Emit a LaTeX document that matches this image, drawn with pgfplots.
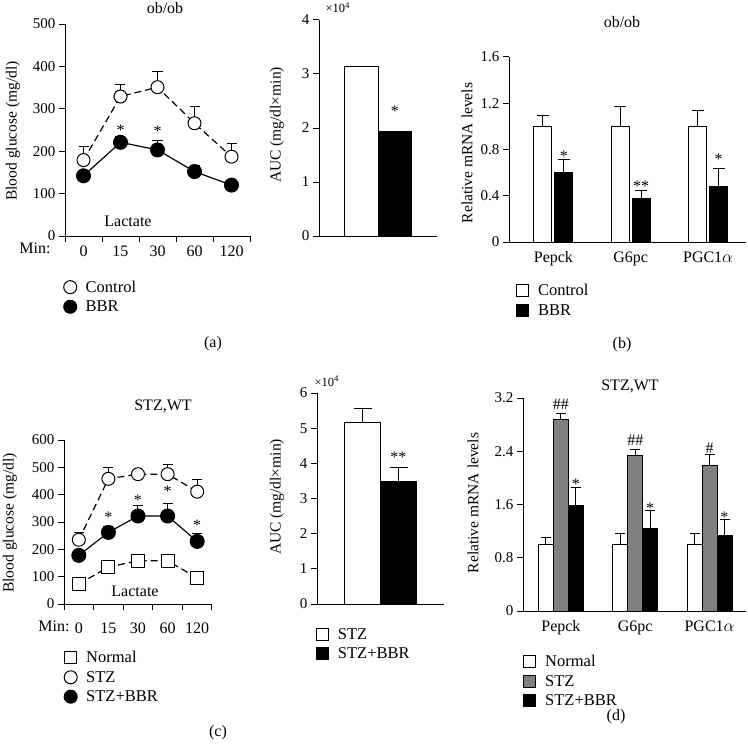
\documentclass[border=0pt]{standalone}
\usepackage{pgfplots}
\pgfplotsset{compat=1.18}
\usepackage{fontspec}
\setmainfont{Liberation Serif}
\newcommand{\myfs}[1]{\fontsize{#1}{#1}\selectfont}
\definecolor{stzgray}{RGB}{128,128,128}
\pgfplotsset{
  base/.style={scale only axis, anchor=south west, clip=false,
    axis lines=left, axis line style={-, line width=1pt, black},
    tick align=outside, major tick length=6pt, minor tick length=6pt,
    tick style={black, line width=1pt},
    /pgf/number format/assume math mode=true,
    yticklabel style={font=\myfs{15}},
    xticklabel style={font=\myfs{16}},
    legend cell align=left,
    legend style={draw=none, fill=none, font=\myfs{16.5}, inner sep=0pt, row sep=5pt, column sep=4pt,
      nodes={inner xsep=5pt, inner ysep=1pt}, anchor=north west},
  },
  circW/.style={mark=*, mark options={solid, fill=white, draw=black, line width=1pt}, mark size=6.5pt},
  circB/.style={mark=*, mark options={solid, fill=black, draw=black, line width=1pt}, mark size=7pt},
  sqW/.style={mark=square*, mark options={solid, fill=white, draw=black, line width=1pt}, mark size=6.5pt},
  ebar/.style={draw=none, mark=none, forget plot, error bars/.cd, y dir=plus, y explicit,
    error bar style={draw=black, solid, line width=1pt},
    error mark options={rotate=90, draw=black, solid, line width=1pt, mark size=#1}},
  ebar/.default=5pt,
  berr/.style={error bars/.cd, y dir=plus, y explicit,
    error bar style={draw=black, solid, line width=1pt},
    error mark options={rotate=90, draw=black, solid, line width=1pt, mark size=#1}},
  lgC/.style={legend image code/.code={\draw[mark=*, mark options={fill=white, draw=black, line width=1pt}, mark size=6.5pt] plot coordinates {(6.5pt,0pt)};}},
  lgB/.style={legend image code/.code={\draw[mark=*, mark options={fill=black, draw=black, line width=1pt}, mark size=6.5pt] plot coordinates {(6.5pt,0pt)};}},
  lgS/.style={legend image code/.code={\draw[mark=square*, mark options={fill=white, draw=black, line width=1pt}, mark size=6pt] plot coordinates {(6.5pt,0pt)};}},
  lgBox/.style={legend image code/.code={\draw[fill=#1, draw=black, line width=1pt] (0pt,-6pt) rectangle (12pt,6pt);}},
}
\begin{document}
\begin{tikzpicture}[x=1pt,y=1pt]
\useasboundingbox (0,0) rectangle (747,-754);

% ---------------- (a) line chart ----------------
\begin{axis}[base, at={(65pt,-236pt)}, width=185pt, height=212pt,
  xmin=0, xmax=5, ymin=0, ymax=500, ytick={0,100,200,300,400,500},
  xtick={0.5,1.5,2.5,3.5,4.5}, xticklabels={0,15,30,60,120},
  major x tick style={draw=none}, minor xtick={0,1,2,3,4,5},
  legend style={at={(-0.008,-0.205)}}]
\addlegendimage{lgC}\addlegendentry{Control}
\addlegendimage{lgB}\addlegendentry{BBR}
\addplot[ebar] coordinates {(0.5,179) +- (0,33) (1.5,329) +- (0,29) (2.5,351) +- (0,37) (3.5,266) +- (0,39) (4.5,187) +- (0,32)};
\addplot[ebar] coordinates {(0.5,142) +- (0,8) (1.5,221) +- (0,13) (2.5,203) +- (0,22) (3.5,152) +- (0,15) (4.5,120) +- (0,5)};
\addplot[black, line width=1.2pt, dash pattern=on 7pt off 4pt, circW, forget plot] coordinates {(0.5,179) (1.5,329) (2.5,351) (3.5,266) (4.5,187)};
\addplot[black, line width=1.2pt, circB, forget plot] coordinates {(0.5,142) (1.5,221) (2.5,203) (3.5,152) (4.5,120)};
\node[font=\myfs{16}, anchor=base] at (axis cs:1.5,238) {*};
\node[font=\myfs{16}, anchor=base] at (axis cs:2.5,234) {*};
\end{axis}

% ---------------- (a) AUC ----------------
\begin{axis}[base, at={(319pt,-236pt)}, width=118pt, height=216pt,
  xmin=-1, xmax=1, ymin=0, ymax=4, ytick={0,1,2,3,4}, xtick=\empty,
  ybar, bar width=33.5pt]
\addplot[fill=white, draw=black, line width=1pt, bar shift=-16.75pt] coordinates {(0,3.14)};
\addplot[fill=black, draw=black, line width=1pt, bar shift=16.75pt] coordinates {(0,1.93)};
\node[font=\myfs{16}, anchor=base] at (axis cs:0.284,2.21) {*};
\end{axis}

% ---------------- (b) ----------------
\begin{axis}[base, at={(509pt,-242pt)}, width=237pt, height=185pt,
  xmin=-0.574, xmax=2.49, ymin=0, ymax=1.6, ytick={0,0.4,0.8,1.2,1.6},
  ybar, bar width=18pt, xtick={0,1,2}, xticklabels={Pepck,G6pc,PGC1$\alpha$},
  major x tick style={draw=none},
  legend style={at={(0.029,-0.222)}}]
\addlegendimage{lgBox=white}\addlegendentry{Control}
\addlegendimage{lgBox=black}\addlegendentry{BBR}
\addplot[fill=white, draw=black, line width=1pt, bar shift=-10.5pt, forget plot, berr=6pt] coordinates {(0,1.0) +- (0,0.09) (1,1.0) +- (0,0.175) (2,1.0) +- (0,0.14)};
\addplot[fill=black, draw=black, line width=1pt, bar shift=10.5pt, forget plot, berr=6pt] coordinates {(0,0.60) +- (0,0.115) (1,0.373) +- (0,0.072) (2,0.48) +- (0,0.16)};
\node[font=\myfs{16}, anchor=base] at (axis cs:0.135,0.696) {*};
\node[font=\myfs{16}, anchor=base] at (axis cs:1.135,0.436) {**};
\node[font=\myfs{16}, anchor=base] at (axis cs:2.135,0.666) {*};
\end{axis}

% ---------------- (c) line chart ----------------
\begin{axis}[base, at={(64pt,-604pt)}, width=148pt, height=164pt,
  xmin=0, xmax=5, ymin=0, ymax=600, ytick={0,100,200,300,400,500,600},
  xtick={0.5,1.5,2.5,3.5,4.5}, xticklabels={0,15,30,60,120},
  xticklabel style={yshift=-9pt},
  major x tick style={draw=none}, minor xtick={0,1,2,3,4,5},
  legend style={at={(0.0,-0.28)}}]
\addlegendimage{lgS}\addlegendentry{Normal}
\addlegendimage{lgC}\addlegendentry{STZ}
\addlegendimage{lgB}\addlegendentry{STZ+BBR}
\addplot[ebar] coordinates {(0.5,235) +- (0,28) (1.5,458) +- (0,42) (2.5,475) +- (0,18) (3.5,475) +- (0,35) (4.5,411) +- (0,43)};
\addplot[ebar] coordinates {(0.5,178) +- (0,10) (1.5,262) +- (0,22) (2.5,322) +- (0,39) (3.5,322) +- (0,44) (4.5,229) +- (0,30)};
\addplot[black, line width=1.2pt, dash pattern=on 7pt off 4pt, sqW, forget plot] coordinates {(0.5,73) (1.5,135) (2.5,158) (3.5,158) (4.5,95)};
\addplot[black, line width=1.2pt, dash pattern=on 7pt off 4pt, circW, forget plot] coordinates {(0.5,235) (1.5,458) (2.5,475) (3.5,475) (4.5,411)};
\addplot[black, line width=1.2pt, circB, forget plot] coordinates {(0.5,178) (1.5,262) (2.5,322) (3.5,322) (4.5,229)};
\node[font=\myfs{16}, anchor=base] at (axis cs:1.5,299) {*};
\node[font=\myfs{16}, anchor=base] at (axis cs:2.5,362) {*};
\node[font=\myfs{16}, anchor=base] at (axis cs:3.5,392) {*};
\node[font=\myfs{16}, anchor=base] at (axis cs:4.5,268) {*};
\end{axis}

% ---------------- (c) AUC ----------------
\begin{axis}[base, at={(317pt,-604pt)}, width=127pt, height=211pt,
  xmin=-1, xmax=1, ymin=0, ymax=6, ytick={0,1,2,3,4,5,6}, xtick=\empty,
  ybar, bar width=36pt,
  legend style={at={(-0.01,-0.109)}}]
\addlegendimage{lgBox=white}\addlegendentry{STZ}
\addlegendimage{lgBox=black}\addlegendentry{STZ+BBR}
\addplot[fill=white, draw=black, line width=1pt, bar shift=-18pt, forget plot, berr=9pt] coordinates {(0,5.17) +- (0,0.38)};
\addplot[fill=black, draw=black, line width=1pt, bar shift=18pt, forget plot, berr=9pt] coordinates {(0,3.47) +- (0,0.40)};
\node[font=\myfs{16}, anchor=base] at (axis cs:0.283,4.01) {**};
\end{axis}

% ---------------- (d) ----------------
\begin{axis}[base, at={(523pt,-611pt)}, width=223pt, height=213pt,
  xmin=-0.51, xmax=2.49, ymin=0, ymax=3.2, ytick={0,0.8,1.6,2.4,3.2},
  ybar, bar width=15pt, xtick={0,1,2}, xticklabels={Pepck,G6pc,PGC1$\alpha$},
  major x tick style={draw=none},
  legend style={at={(0.0,-0.202)}}]
\addlegendimage{lgBox=white}\addlegendentry{Normal}
\addlegendimage{lgBox=stzgray}\addlegendentry{STZ}
\addlegendimage{lgBox=black}\addlegendentry{STZ+BBR}
\addplot[fill=white, draw=black, line width=1pt, bar shift=-15pt, forget plot, berr=5pt] coordinates {(0,1.0) +- (0,0.10) (1,1.0) +- (0,0.17) (2,1.0) +- (0,0.17)};
\addplot[fill=stzgray, draw=black, line width=1pt, bar shift=0pt, forget plot, berr=5pt] coordinates {(0,2.87) +- (0,0.10) (1,2.33) +- (0,0.09) (2,2.19) +- (0,0.16)};
\addplot[fill=black, draw=black, line width=1pt, bar shift=15pt, forget plot, berr=5pt] coordinates {(0,1.59) +- (0,0.27) (1,1.24) +- (0,0.27) (2,1.13) +- (0,0.24)};
\node[font=\myfs{16}, anchor=base] at (axis cs:0,3.03) {\#\#};
\node[font=\myfs{16}, anchor=base] at (axis cs:1,2.48) {\#\#};
\node[font=\myfs{16}, anchor=base] at (axis cs:2,2.37) {\#};
\node[font=\myfs{16}, anchor=base] at (axis cs:0.2,1.83) {*};
\node[font=\myfs{16}, anchor=base] at (axis cs:1.2,1.47) {*};
\node[font=\myfs{16}, anchor=base] at (axis cs:2.2,1.33) {*};
\end{axis}

% ---------------- texts ----------------
\node[font=\myfs{16}, anchor=base] at (165,-14) {ob/ob};
\node[font=\myfs{16}, anchor=base] at (622,-28) {ob/ob};
\node[font=\myfs{16}, anchor=base] at (163,-410) {STZ,WT};
\node[font=\myfs{16}, anchor=base] at (630,-390) {STZ,WT};
\node[font=\myfs{16}, anchor=base] at (128,-226) {Lactate};
\node[font=\myfs{16}, anchor=base] at (135,-596) {Lactate};
\node[font=\myfs{16}, anchor=base] at (35,-253) {Min:};
\node[font=\myfs{16}, anchor=base] at (54,-631) {Min:};
\node[font=\myfs{16}, anchor=base] at (213,-347) {(a)};
\node[font=\myfs{16}, anchor=base] at (622,-348) {(b)};
\node[font=\myfs{16}, anchor=base] at (218,-736) {(c)};
\node[font=\myfs{16}, anchor=base] at (616,-720) {(d)};
\node[font=\myfs{12.5}, anchor=base west] at (322,-13) {×10\textsuperscript{4}};
\node[font=\myfs{12.5}, anchor=base west] at (311,-386) {×10\textsuperscript{4}};
\node[font=\myfs{15.5}, rotate=90] at (13,-131) {Blood glucose (mg/dl)};
\node[font=\myfs{15.5}, rotate=90] at (277,-125) {AUC (mg/dl×min)};
\node[font=\myfs{15.5}, rotate=90] at (467,-153) {Relative mRNA levels};
\node[font=\myfs{15.5}, rotate=90] at (10,-523) {Blood glucose (mg/dl)};
\node[font=\myfs{15.5}, rotate=90] at (277,-497) {AUC (mg/dl×min)};
\node[font=\myfs{15.5}, rotate=90] at (473,-503) {Relative mRNA levels};
\end{tikzpicture}
\end{document}
